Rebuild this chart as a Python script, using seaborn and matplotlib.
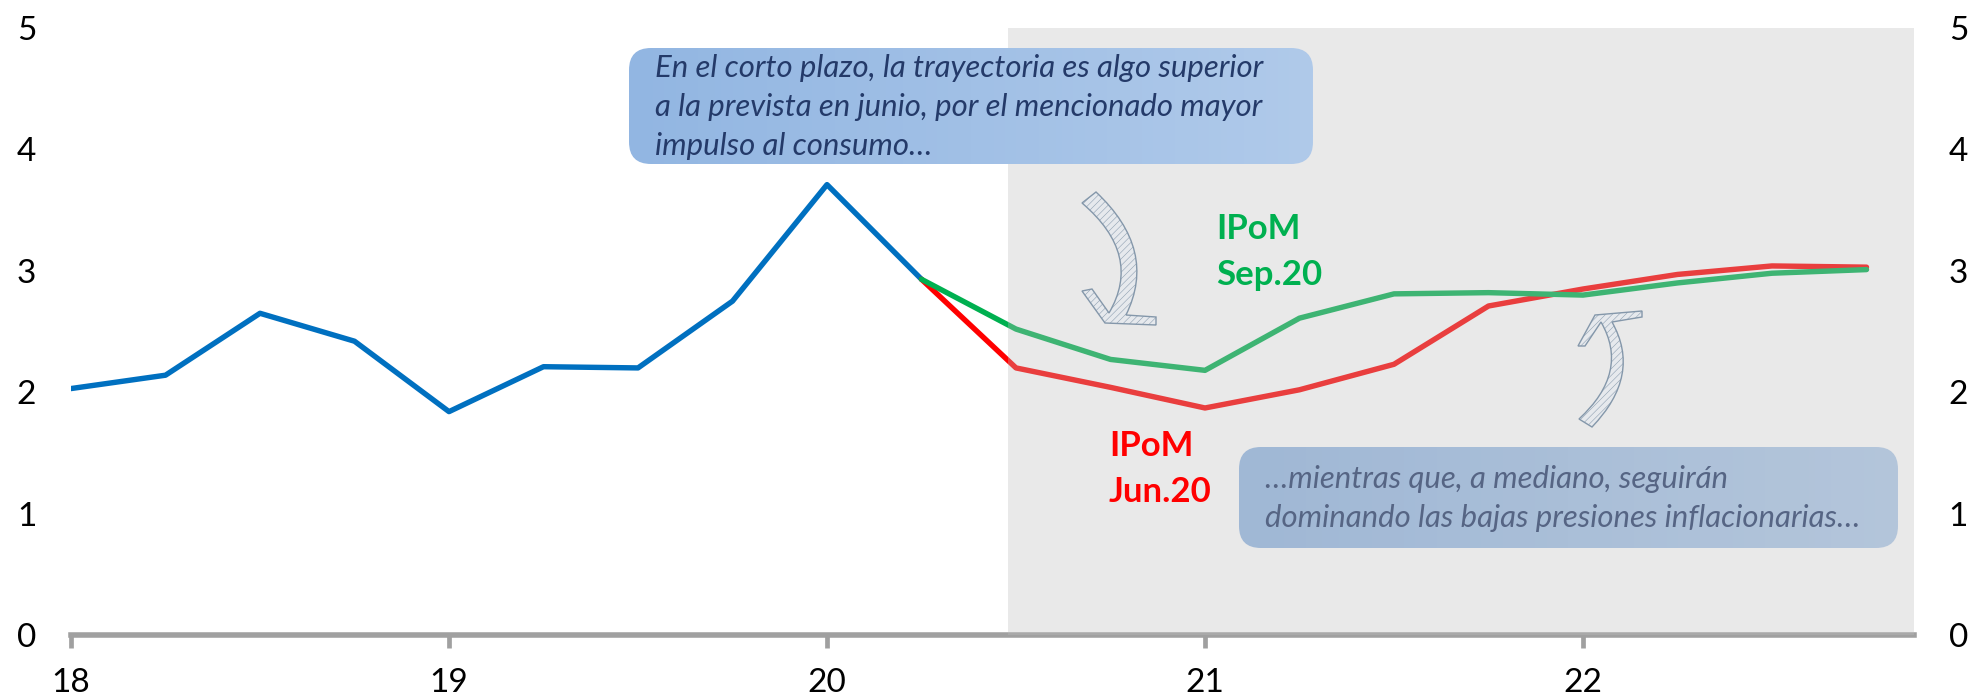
import numpy as np
import pandas as pd
import matplotlib
matplotlib.use('Agg')
import matplotlib.pyplot as plt
import seaborn as sb
from matplotlib.patches import FancyBboxPatch, PathPatch, Rectangle
from matplotlib.path import Path
from matplotlib.transforms import Affine2D

# datos
x_hist = [18, 18.25, 18.5, 18.75, 19, 19.25, 19.5, 19.75, 20, 20.25]
y_hist = [2.03, 2.14, 2.65, 2.42, 1.84, 2.21, 2.20, 2.75, 3.71, 2.93]
x_proy = [20.25, 20.5, 20.75, 21, 21.25, 21.5, 21.75, 22, 22.25, 22.5, 22.75]
y_sep = [2.93, 2.52, 2.27, 2.18, 2.61, 2.81, 2.82, 2.80, 2.90, 2.98, 3.01]
y_jun = [2.93, 2.20, 2.04, 1.87, 2.02, 2.23, 2.71, 2.85, 2.97, 3.04, 3.03]
xticks = [18, 19, 20, 21, 22]
yticks = [0, 1, 2, 3, 4, 5]

texto_1 = 'En el corto plazo, la trayectoria es algo superior\na la prevista en junio, por el mencionado mayor\nimpulso al consumo…'
texto_2 = '…mientras que, a mediano, seguirán\ndominando las bajas presiones inflacionarias…'

W, H = 1974, 699
sb.set_theme(style='white')
plt.rcParams['font.family'] = ['Lato', 'DejaVu Sans']
plt.rcParams['hatch.linewidth'] = 0.35

fig = plt.figure(figsize=(W / 100, H / 100), dpi=100)
ax = fig.add_axes([71 / W, 1 - 635 / H, (1914 - 71) / W, (635 - 28) / H])
# pixeles de la imagen, origen arriba a la izquierda
px = Affine2D().scale(1, -1).translate(0, H)

hist = pd.DataFrame({'x': x_hist, 'y': y_hist})
proy = pd.DataFrame({'x': x_proy, 'sep': y_sep, 'jun': y_jun})
sb.lineplot(data=hist, x='x', y='y', color='#0070C0', lw=3.9, ax=ax, zorder=3, errorbar=None)
sb.lineplot(data=proy, x='x', y='jun', color='#FF0000', lw=3.9, ax=ax, zorder=3, errorbar=None)
sb.lineplot(data=proy, x='x', y='sep', color='#00B050', lw=3.9, ax=ax, zorder=3, errorbar=None)


def caja(x0, y0, x1, y1, texto, z):
    # caja redondeada con degradado horizontal
    grad = np.linspace(0, 1, 256).reshape(1, -1)
    cmap = matplotlib.colors.LinearSegmentedColormap.from_list('caja', ['#92B6E2', '#B0CAEA'])
    im = ax.imshow(grad, cmap=cmap, extent=(x0, x1, H - y1, H - y0), aspect='auto',
                   transform=matplotlib.transforms.IdentityTransform(), zorder=z)
    r = 22
    p = FancyBboxPatch((x0 + r, y0 + r), x1 - x0 - 2 * r, y1 - y0 - 2 * r,
                       boxstyle='round,pad=%d,rounding_size=%d' % (r, r),
                       transform=px, fc='none', ec='none', zorder=z)
    ax.add_patch(p)
    im.set_clip_path(p)
    ax.text(x0 + 26, (y0 + y1) / 2 + 1, texto, transform=px, fontsize=22.4, style='italic',
            color='#243A69', ha='left', va='center', linespacing=1.47, zorder=z + 0.1)


caja(1239, 447, 1898, 548, texto_2, 4)
# banda de proyeccion encima de las lineas, por eso se ven mas claras
ax.add_patch(Rectangle((1008, 26), 1914 - 1008, 635 - 26, transform=px, fc='#BDBDBD',
                       alpha=0.33, ec='none', zorder=5))
caja(629, 48, 1313, 164, texto_1, 6)


def flecha(v):
    codes = [Path.MOVETO, Path.LINETO, Path.CURVE3, Path.CURVE3, Path.LINETO, Path.LINETO,
             Path.LINETO, Path.LINETO, Path.LINETO, Path.LINETO, Path.CURVE3, Path.CURVE3,
             Path.CLOSEPOLY]
    ax.add_patch(PathPatch(Path(v, codes), transform=px, fc='#E6E9ED', ec='#8497AA', lw=1,
                           hatch='/////', zorder=7))


flecha([(1082, 203), (1096, 192), (1158, 250), (1126, 315), (1156, 317), (1156, 325),
        (1105, 323), (1082, 291), (1092, 289), (1109, 313), (1143, 255), (1082, 203), (1082, 203)])
flecha([(1579, 419), (1592, 427), (1642, 375), (1612, 322), (1642, 317), (1642, 311),
        (1595, 315), (1578, 346), (1585, 346), (1601, 322), (1630, 372), (1579, 419), (1579, 419)])

ax.text(1216, 229, 'IPoM', transform=px, color='#00B050', fontsize=25, fontweight='bold', va='center', zorder=8)
ax.text(1216, 275, 'Sep.20', transform=px, color='#00B050', fontsize=25, fontweight='bold', va='center', zorder=8)
ax.text(1109, 446, 'IPoM', transform=px, color='#FF0000', fontsize=25, fontweight='bold', va='center', zorder=8)
ax.text(1109, 492, 'Jun.20', transform=px, color='#FF0000', fontsize=25, fontweight='bold', va='center', zorder=8)

ax.set_xlim(18, 18 + (1914 - 71) / 378)
ax.set_ylim(0, 5)
ax.set_xticks(xticks)
ax.set_yticks(yticks)
ax.set_xlabel('')
ax.set_ylabel('')
sb.despine(ax=ax, left=True, right=True, top=True)
ax.spines['bottom'].set_color('#A0A0A0')
ax.spines['bottom'].set_linewidth(4)
ax.tick_params(axis='x', length=9, width=3.4, color='#A0A0A0', labelsize=24, labelcolor='black', pad=15, bottom=True)
ax.tick_params(axis='y', length=0, labelsize=24, labelcolor='black', pad=25, left=False, labelleft=True, labelright=True)
ax.patch.set_alpha(0)
fig.savefig('out.png', dpi=100)
